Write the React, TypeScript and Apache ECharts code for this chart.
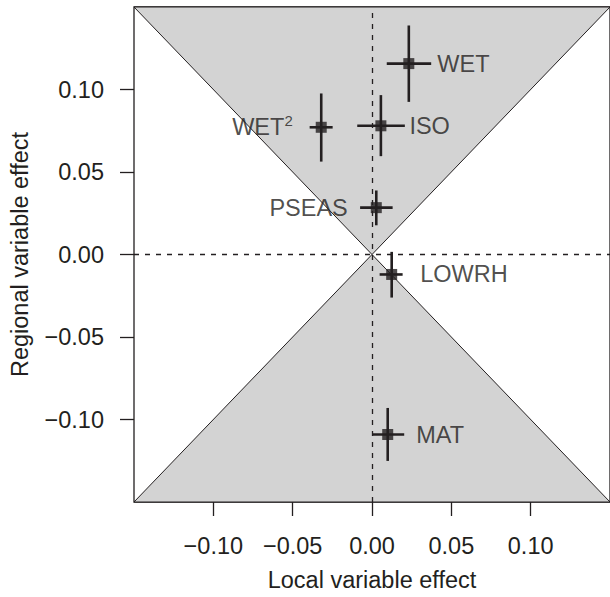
import React, { useEffect, useRef } from "react";
import * as echarts from "echarts";

// ---- data ----
const varNames = ["WET", "WET2", "ISO", "PSEAS", "LOWRH", "MAT"];
const localEffect = [0.0232, -0.032, 0.0056, 0.0027, 0.0124, 0.0099];
const localLo = [0.0093, -0.0393, -0.0093, -0.0075, 0.0048, 0.0];
const localHi = [0.0373, -0.0248, 0.0207, 0.013, 0.0193, 0.0203];
const regionalEffect = [0.1157, 0.0771, 0.078, 0.0284, -0.0121, -0.1091];
const regionalLo = [0.0925, 0.0563, 0.0596, 0.0177, -0.0261, -0.1251];
const regionalHi = [0.1388, 0.0976, 0.0966, 0.0388, 0.0016, -0.093];
const labelSide = ["right", "left", "right", "left", "right", "right"];

const axisMin = -0.15;
const axisMax = 0.15;
const tickValues = [-0.1, -0.05, 0, 0.05, 0.1];

const shadeTop = [[-0.15, 0.15], [0.15, 0.15], [0, 0]];
const shadeBottom = [[-0.15, -0.15], [0.15, -0.15], [0, 0]];
const triangles = [shadeTop, shadeBottom];

const INK = "#231f20";
const FONT = "'Liberation Sans', Arial, sans-serif";
const FS = 23.5;

const fmt = (v: number) => {
  const s = Math.abs(v).toFixed(2);
  return v < -1e-9 ? "\u2212" + s : s;
};

export default function App() {
  const ref = useRef<HTMLDivElement>(null);
  useEffect(() => {
    if (!ref.current) return;
    const chart = echarts.init(ref.current, undefined, { renderer: "svg" });

    const barData = varNames.map((_, i) => [
      localEffect[i], localLo[i], localHi[i],
      regionalEffect[i], regionalLo[i], regionalHi[i],
    ]);

    const pointData = varNames.map((n, i) => ({
      value: [localEffect[i], regionalEffect[i]],
      name: n,
      label: {
        position: labelSide[i],
        formatter: n === "WET2" ? "WET{sup|2}" : n,
      },
    }));

    const labelBase = {
      customValues: tickValues,
      formatter: (v: number) => fmt(v),
      fontFamily: FONT,
      fontSize: FS,
      color: INK,
    };

    const axisCommon = (name: string) => ({
      type: "value",
      min: axisMin,
      max: axisMax,
      name,
      nameLocation: "middle",
      nameTextStyle: { fontFamily: FONT, fontSize: FS, color: INK },
      splitLine: { show: false },
      axisLine: { show: false, onZero: false },
      axisTick: {
        show: true,
        length: 14,
        inside: false,
        customValues: tickValues,
        lineStyle: { color: INK, width: 1.3 },
      },
    });

    chart.setOption({
      animation: false,
      grid: {
        left: 132,
        top: 7,
        right: -5,
        bottom: 93,
        show: true,
        borderColor: INK,
        borderWidth: 1.3,
        backgroundColor: "transparent",
      },
      xAxis: {
        ...axisCommon("Local variable effect"),
        nameGap: 66,
        axisLabel: { ...labelBase, margin: 32 },
      },
      yAxis: {
        ...axisCommon("Regional variable effect"),
        nameGap: 102,
        axisLabel: { ...labelBase, margin: 30 },
      },
      series: [
        {
          type: "custom",
          z: 1,
          silent: true,
          data: triangles.map((_, i) => [i]),
          renderItem: (params: any, api: any) => {
            const tri = triangles[params.dataIndex];
            return {
              type: "polygon",
              shape: { points: tri.map((p) => api.coord(p)) },
              style: { fill: "#d3d3d3", stroke: INK, lineWidth: 1 },
            };
          },
          markLine: {
            silent: true,
            symbol: "none",
            label: { show: false },
            lineStyle: { color: INK, width: 1.3, type: [5, 6] },
            data: [{ xAxis: 0 }, { yAxis: 0 }],
          },
        },
        {
          type: "custom",
          z: 3,
          silent: true,
          data: barData,
          encode: { x: [0, 1, 2], y: [3, 4, 5] },
          renderItem: (params: any, api: any) => {
            const x = api.value(0), xl = api.value(1), xh = api.value(2);
            const y = api.value(3), yl = api.value(4), yh = api.value(5);
            const a = api.coord([xl, y]);
            const b = api.coord([xh, y]);
            const c = api.coord([x, yl]);
            const d = api.coord([x, yh]);
            const st = { stroke: INK, lineWidth: 2.6 };
            return {
              type: "group",
              children: [
                { type: "line", shape: { x1: a[0], y1: a[1], x2: b[0], y2: b[1] }, style: st },
                { type: "line", shape: { x1: c[0], y1: c[1], x2: d[0], y2: d[1] }, style: st },
              ],
            };
          },
        },
        {
          type: "scatter",
          z: 4,
          symbol: "rect",
          symbolSize: 11,
          itemStyle: { color: INK },
          data: pointData,
          label: {
            show: true,
            distance: 23,
            fontFamily: FONT,
            fontSize: FS,
            color: INK,
            rich: {
              sup: { fontFamily: FONT, fontSize: 15, color: INK, padding: [0, 0, 13, 0] },
            },
          },
        },
      ],
    });
    return () => chart.dispose();
  }, []);

  return (
    <div
      ref={ref}
      style={{ position: "absolute", left: 0, top: 0, width: 610, height: 597, background: "#fff" }}
    />
  );
}
